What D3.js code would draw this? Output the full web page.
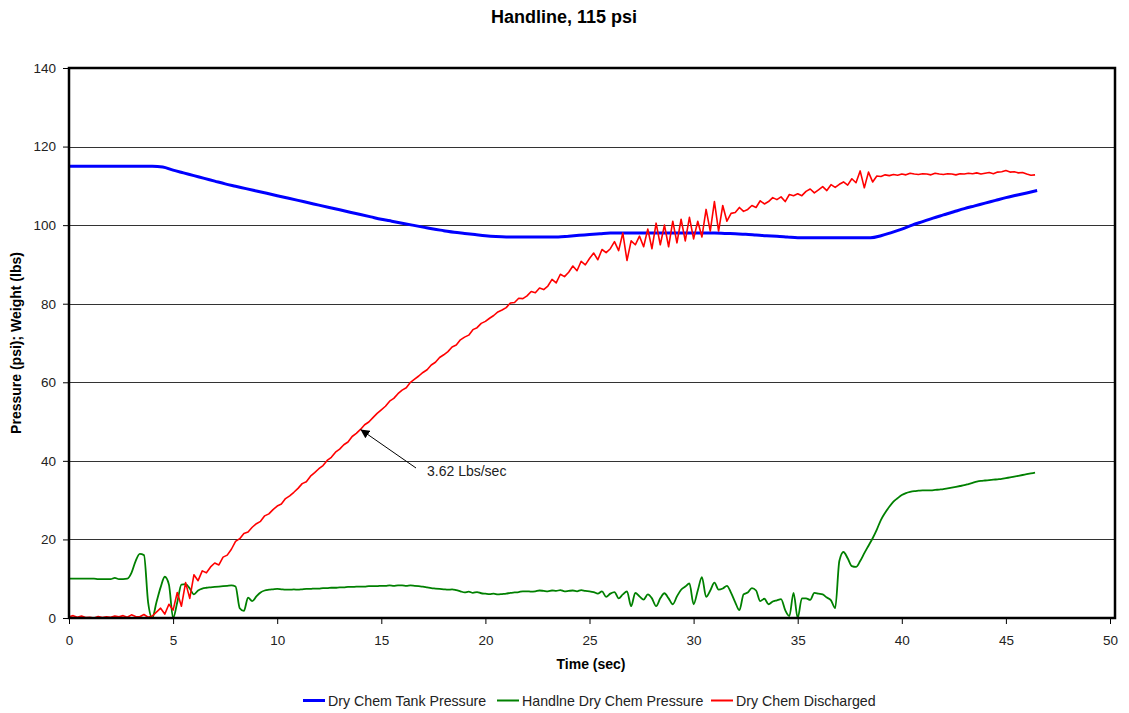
<!DOCTYPE html>
<html>
<head>
<meta charset="utf-8">
<script src="https://cdn.jsdelivr.net/npm/d3@7"></script>
<style>
  html, body { margin: 0; padding: 0; background: #fff; }
  svg { display: block; font-family: Arial, "Liberation Sans", sans-serif; }
</style>
</head>
<body>
<svg id="chart" width="1129" height="713"></svg>
<script>
// Handline test at 115 psi: tank pressure, handline pressure and weight discharged
const chartTitle = "Handline, 115 psi";
const xTitle = "Time (sec)";
const yTitle = "Pressure (psi); Weight (lbs)";
const xTicks = [0, 5, 10, 15, 20, 25, 30, 35, 40, 45, 50];
const yTicks = [0, 20, 40, 60, 80, 100, 120, 140];
const seriesNames = ["Dry Chem Tank Pressure", "Handlne Dry Chem Pressure", "Dry Chem Discharged"];
const annotationText = "3.62 Lbs/sec";
const annotationTime = 14;

// Tank pressure, sampled every 0.5 s from 0 s
const tankStep = 0.5;
const tankPressure = [
  115, 115, 115, 115, 115, 115, 115, 115, 115,
  114.8, 114, 113.3, 112.6, 111.9, 111.2, 110.5, 109.9, 109.3, 108.7,
  108.1, 107.5, 106.9, 106.3, 105.7, 105.1, 104.5, 103.9, 103.3, 102.7,
  102.1, 101.5, 101, 100.5, 100, 99.5, 99, 98.6, 98.2, 97.9,
  97.6, 97.3, 97.1, 97, 97, 97, 97, 97, 97, 97.2,
  97.4, 97.6, 97.8, 98, 98, 98, 98, 98, 98, 98,
  98, 98, 98, 98, 97.9, 97.8, 97.7, 97.5, 97.3, 97.2,
  97, 96.8, 96.8, 96.8, 96.8, 96.8, 96.8, 96.8, 96.8, 97.3,
  98.1, 99, 100, 100.9, 101.8, 102.6, 103.4, 104.2, 104.9, 105.6,
  106.3, 107, 107.6, 108.2, 108.8
];

// Handline pressure, sampled every 0.2 s from 0 s
const lineStep = 0.2;
const handlinePressure = [
  10, 10, 10, 10, 10,
  10, 10, 9.9, 9.9, 9.9,
  9.9, 10.2, 9.9, 9.9, 10.0,
  11.5, 14.5, 16.3, 16.0, 4.0,
  0, 4.0, 7.8, 10.5, 8.5,
  0, 4.0, 8.5, 8.6, 7.5,
  6.0, 7.0, 7.5, 7.7, 7.8,
  7.9, 8.0, 8.1, 8.2, 8.3,
  8.0, 2.5, 1.8, 5.2, 4.3,
  5.5, 6.5, 7.0, 7.2, 7.3,
  7.4, 7.3, 7.2, 7.2, 7.3,
  7.2, 7.3, 7.4, 7.4, 7.5,
  7.5, 7.6, 7.6, 7.7, 7.7,
  7.8, 7.8, 7.9, 7.9, 8.0,
  8.0, 8.0, 8.1, 8.1, 8.1,
  8.2, 8.2, 8.3, 8.2, 8.3,
  8.3, 8.2, 8.3, 8.2, 8.1,
  8.0, 7.8, 7.6, 7.5, 7.4,
  7.3, 7.2, 7.3, 7.1, 6.8,
  6.5, 6.7, 6.4, 6.6, 6.3,
  6.2, 6.1, 6.2, 6.0, 6.1,
  6.2, 6.4, 6.5, 6.6, 6.8,
  6.8, 6.7, 6.8, 7.0, 6.9,
  6.8, 7.0, 6.9, 7.1, 6.8,
  6.9, 7.0, 6.8, 7.1, 6.9,
  6.8, 6.6, 6.2, 6.8, 5.4,
  6.2, 6.6, 5.0, 6.0, 6.8,
  3.0, 6.4, 5.5, 4.7, 6.0,
  5.0, 3.0, 5.0, 6.3, 5.0,
  3.5, 5.5, 7.2, 8.0, 8.8,
  3.5, 7.0, 10.4, 5.4, 7.0,
  9.0, 7.2, 7.5, 8.2, 6.4,
  4.0, 2.0, 6.0, 6.5, 7.6,
  7.0, 4.3, 4.9, 3.5, 4.2,
  4.5, 4.8, 2.0, 0.5, 6.4,
  0.0, 5.0, 5.0, 4.6, 6.4,
  6.2, 6.0, 5.2, 4.5, 2.5,
  14.5, 16.8, 15.2, 13.2, 13.0,
  14.5, 16.5, 18.4, 20.3, 22.5,
  25.0, 26.8, 28.3, 29.6, 30.5,
  31.3, 31.8, 32.1, 32.3, 32.4,
  32.5, 32.5, 32.5, 32.6, 32.7,
  32.8, 33.0, 33.2, 33.4, 33.6,
  33.8, 34.1, 34.4, 34.7, 34.9,
  35.0, 35.1, 35.2, 35.3, 35.4,
  35.6, 35.8, 36.0, 36.2, 36.4,
  36.6, 36.8, 37.0
];

// Weight of dry chemical discharged, sampled every 0.2 s from 0 s
const dischargedWeight = [
  0.3, 0.6, 0.2, 0.5, 0.1,
  0.2, 0.0, 0.4, 0.1, 0.3,
  0.2, 0.5, 0.3, 0.6, 0.2,
  0.8, 0.4, 0.3, 0.9, 0.2,
  0.5, 1.5, 2.5, 1.0, 3.5,
  2.0, 6.5, 3.0, 9.0, 5.0,
  11.0, 9.5, 12.0, 11.5, 13.0,
  14.0, 13.5, 15.5, 16.0, 17.5,
  19.5, 20.2, 21.5, 21.9, 23.1,
  24.0, 24.6, 26.0, 26.5, 27.6,
  28.5, 29.0, 30.4, 31.1, 32.0,
  33.0, 34.2, 34.7, 36.1, 37.0,
  38.0, 38.8, 40.1, 40.9, 42.2,
  43.0, 44.1, 44.8, 46.2, 47.0,
  48.0, 49.2, 49.9, 51.0, 52.1,
  53.0, 53.9, 55.2, 55.9, 57.1,
  58.0, 58.6, 60.0, 60.8, 61.6,
  62.5, 63.2, 64.4, 65.1, 66.3,
  67.0, 67.8, 69.0, 69.5, 70.8,
  71.5, 72.0, 73.4, 73.9, 75.0,
  75.5, 76.3, 77.0, 77.9, 78.4,
  79.0, 80.2, 80.3, 81.4, 81.3,
  82.0, 83.1, 82.8, 84.0, 83.6,
  84.5, 86.2, 85.3, 87.5, 86.9,
  88.0, 89.6, 88.4, 90.8, 89.9,
  91.5, 92.9, 91.2, 93.8, 93.0,
  94.0, 95.8, 93.5, 98.0, 91.0,
  96.0, 95.0, 97.2, 94.5, 99.0,
  94.0, 100.5, 95.0, 100.0, 94.5,
  101.0, 95.5, 101.5, 96.0, 102.0,
  96.5, 101.0, 97.0, 104.0, 98.5,
  106.0, 98.5, 105.0, 101.0, 103.0,
  103.2, 104.5, 103.5, 104.0, 105.0,
  104.5, 106.2, 105.4, 106.0, 107.0,
  106.5, 107.2, 106.0, 107.8, 107.5,
  108.0, 107.5, 108.6, 109.2, 108.2,
  109.0, 109.8, 108.8, 110.3, 109.6,
  110.4, 111.0, 110.2, 111.8, 110.8,
  113.8, 109.5, 113.5, 111.0, 112.5,
  112.4, 112.8, 112.6, 112.9, 112.7,
  113.0, 112.8, 113.2, 113.0, 112.9,
  113.1, 113.0, 112.8, 113.2, 113.0,
  112.9, 113.1, 113.0, 112.8, 113.1,
  113.0, 113.2, 113.1, 113.3, 113.0,
  113.2, 113.4, 113.1, 113.5, 113.6,
  113.9, 113.5, 113.6, 113.3, 113.4,
  113.0, 112.7, 112.8
];

const colors = ["#0000ff", "#008000", "#ff0000"];
const widths = [3, 1.8, 1.6];
const curves = [d3.curveMonotoneX, d3.curveMonotoneX, d3.curveLinear];

const plot = { left: 69, right: 1115, top: 68, bottom: 618 };
const svg = d3.select("#chart");

const x = d3.scaleLinear().domain([0, 50]).range([plot.left, 1110]);
const y = d3.scaleLinear().domain([0, 140]).range([plot.bottom, plot.top]);

const toPoints = (vals, step) => vals.map((v, i) => [i * step, v]);
const series = [
  toPoints(tankPressure, tankStep),
  toPoints(handlinePressure, lineStep),
  toPoints(dischargedWeight, lineStep)
];

// Horizontal gridlines
svg.append("g")
  .selectAll("line")
  .data(yTicks.filter(d => d > 0 && d < 140))
  .join("line")
  .attr("x1", plot.left).attr("x2", plot.right)
  .attr("y1", d => Math.round(y(d)) + 0.5).attr("y2", d => Math.round(y(d)) + 0.5)
  .attr("stroke", "#333").attr("stroke-width", 1);

// Axes
const yAxis = svg.append("g")
  .attr("transform", `translate(${plot.left},0)`)
  .call(d3.axisLeft(y).tickValues(yTicks).tickSize(6).tickPadding(7));
const xAxis = svg.append("g")
  .attr("transform", `translate(0,${plot.bottom})`)
  .call(d3.axisBottom(x).tickValues(xTicks).tickSize(6).tickPadding(11));
[yAxis, xAxis].forEach(g => {
  g.select(".domain").remove();
  g.selectAll(".tick line").attr("stroke", "#000").attr("stroke-width", 1);
  g.selectAll(".tick text")
    .attr("fill", "#222")
    .style("font-size", "13.5px")
    .style("font-family", "Arial, 'Liberation Sans', sans-serif");
});

// Data lines
svg.append("clipPath").attr("id", "plot-clip")
  .append("rect")
  .attr("x", plot.left).attr("y", plot.top)
  .attr("width", plot.right - plot.left).attr("height", plot.bottom - plot.top);

svg.append("g").attr("clip-path", "url(#plot-clip)")
  .selectAll("path")
  .data(series)
  .join("path")
  .attr("d", (d, i) => d3.line().curve(curves[i]).x(p => x(p[0])).y(p => y(p[1]))(d))
  .attr("fill", "none")
  .attr("stroke", (d, i) => colors[i])
  .attr("stroke-width", (d, i) => widths[i])
  .attr("stroke-linejoin", "round");

// Plot frame
svg.append("rect")
  .attr("x", plot.left).attr("y", plot.top)
  .attr("width", plot.right - plot.left).attr("height", plot.bottom - plot.top)
  .attr("fill", "none").attr("stroke", "#000").attr("stroke-width", 2.5);

// Slope annotation with arrow
svg.append("defs").append("marker")
  .attr("id", "arrowhead")
  .attr("viewBox", "0 0 10 10")
  .attr("refX", 10).attr("refY", 5)
  .attr("markerWidth", 9).attr("markerHeight", 9)
  .attr("markerUnits", "userSpaceOnUse")
  .attr("orient", "auto")
  .append("path").attr("d", "M0,0 L10,5 L0,10 z").attr("fill", "#000");

const tipValue = dischargedWeight[Math.round(annotationTime / lineStep)];
svg.append("line")
  .attr("x1", 416).attr("y1", 468)
  .attr("x2", x(annotationTime)).attr("y2", y(tipValue))
  .attr("stroke", "#000").attr("stroke-width", 1)
  .attr("marker-end", "url(#arrowhead)");
svg.append("text")
  .attr("x", 427).attr("y", 476)
  .attr("fill", "#222")
  .style("font-size", "14px")
  .text(annotationText);

// Titles
svg.append("text")
  .attr("x", 564).attr("y", 23)
  .attr("text-anchor", "middle")
  .style("font-size", "18px").style("font-weight", "bold")
  .text(chartTitle);
svg.append("text")
  .attr("x", 591).attr("y", 669)
  .attr("text-anchor", "middle")
  .style("font-size", "14px").style("font-weight", "bold")
  .text(xTitle);
svg.append("text")
  .attr("transform", "translate(21,343) rotate(-90)")
  .attr("text-anchor", "middle")
  .style("font-size", "14px").style("font-weight", "bold")
  .text(yTitle);

// Legend
const legendItems = [
  { name: seriesNames[0], x: 303 },
  { name: seriesNames[1], x: 497 },
  { name: seriesNames[2], x: 711 }
];
const legend = svg.append("g");
legendItems.forEach((d, i) => {
  legend.append("line")
    .attr("x1", d.x).attr("x2", d.x + 22)
    .attr("y1", 700.5).attr("y2", 700.5)
    .attr("stroke", colors[i]).attr("stroke-width", i === 0 ? 3 : 2);
  legend.append("text")
    .attr("x", d.x + 25).attr("y", 706)
    .attr("fill", "#222")
    .style("font-size", "14.2px")
    .text(d.name);
});
</script>
</body>
</html>
